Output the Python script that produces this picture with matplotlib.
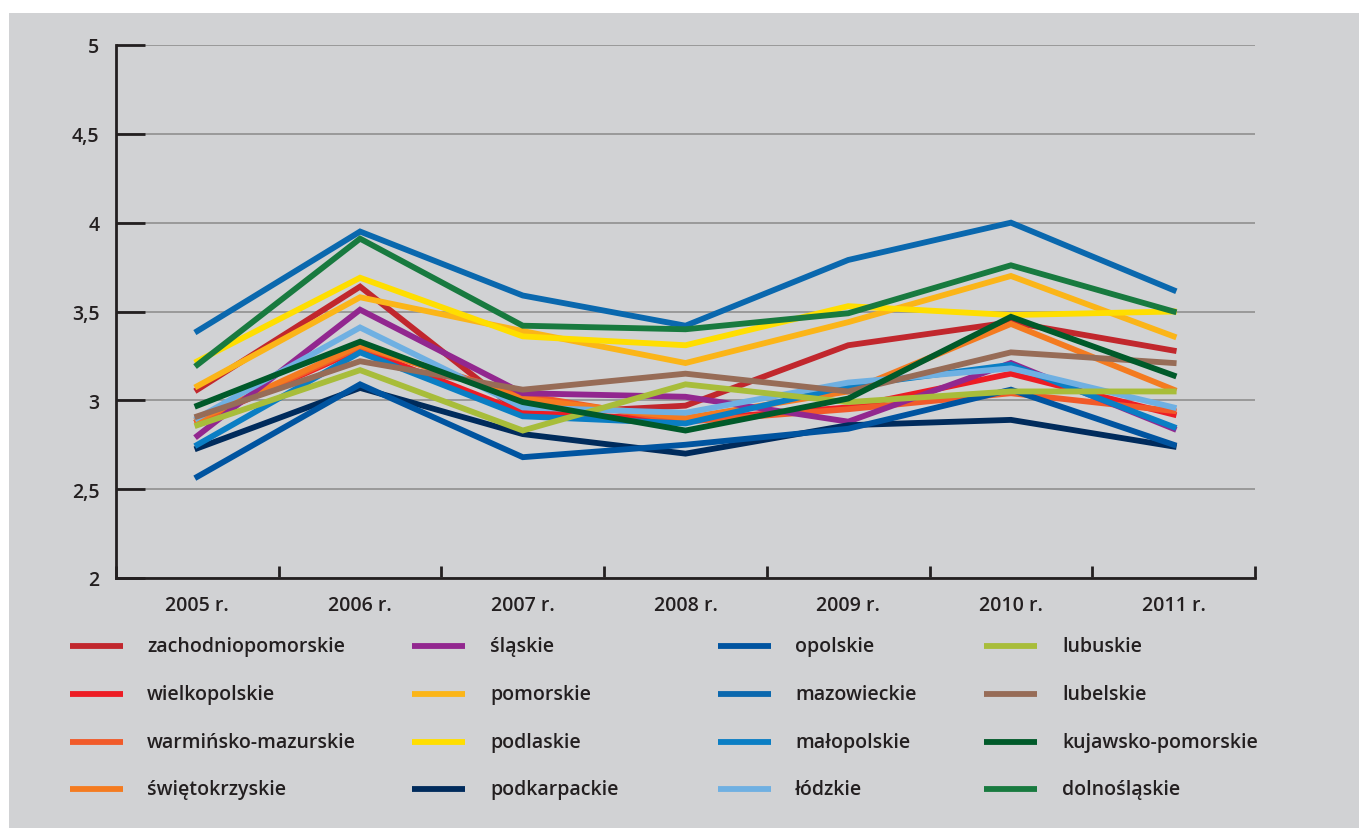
import matplotlib
matplotlib.use("Agg")
import matplotlib.pyplot as plt
from matplotlib.patches import Rectangle

plt.rcParams['font.family'] = ['Open Sans', 'DejaVu Sans']

# data
years = ["2005 r.", "2006 r.", "2007 r.", "2008 r.", "2009 r.", "2010 r.", "2011 r."]

regions = [
  "zachodniopomorskie", "wielkopolskie", "warmińsko-mazurskie", "świętokrzyskie",
  "śląskie", "pomorskie", "podlaskie", "podkarpackie",
  "opolskie", "mazowieckie", "małopolskie", "łódzkie",
  "lubuskie", "lubelskie", "kujawsko-pomorskie", "dolnośląskie",
]

zachodniopomorskie = [3.06, 3.64, 2.92, 2.97, 3.31, 3.44, 3.28]
wielkopolskie = [2.88, 3.29, 2.93, 2.89, 2.96, 3.15, 2.92]
warminsko = [2.88, 3.30, 3.03, 2.88, 2.95, 3.04, 2.94]
swietokrzyskie = [2.89, 3.31, 3.01, 2.90, 3.05, 3.43, 3.06]
slaskie = [2.80, 3.51, 3.04, 3.02, 2.88, 3.21, 2.84]
pomorskie = [3.08, 3.58, 3.39, 3.21, 3.44, 3.70, 3.36]
podlaskie = [3.22, 3.69, 3.36, 3.31, 3.53, 3.48, 3.50]
podkarpackie = [2.73, 3.07, 2.81, 2.70, 2.86, 2.89, 2.74]
opolskie = [2.57, 3.09, 2.68, 2.75, 2.84, 3.06, 2.75]
mazowieckie = [3.39, 3.95, 3.59, 3.42, 3.79, 4.00, 3.62]
malopolskie = [2.75, 3.27, 2.91, 2.87, 3.08, 3.20, 2.85]
lodzkie = [2.90, 3.41, 2.96, 2.93, 3.10, 3.18, 2.96]
lubuskie = [2.86, 3.17, 2.83, 3.09, 2.99, 3.05, 3.05]
lubelskie = [2.91, 3.22, 3.06, 3.15, 3.05, 3.27, 3.21]
kujawsko = [2.97, 3.33, 2.99, 2.83, 3.01, 3.47, 3.14]
dolnoslaskie = [3.20, 3.91, 3.42, 3.40, 3.49, 3.76, 3.50]

values = [
  zachodniopomorskie, wielkopolskie, warminsko, swietokrzyskie,
  slaskie, pomorskie, podlaskie, podkarpackie,
  opolskie, mazowieckie, malopolskie, lodzkie,
  lubuskie, lubelskie, kujawsko, dolnoslaskie,
]

colors = [
  "#c1272d", "#ed1c24", "#f15a29", "#f47b20",
  "#92278f", "#fbb518", "#ffde00", "#002b5c",
  "#0054a0", "#0a68ae", "#0a7ec4", "#6fb0e2",
  "#a8bd3a", "#976c57", "#005a2a", "#187a3f",
]

W, H = 1359, 829
fig = plt.figure(figsize=(W / 100, H / 100), dpi=100, facecolor="white")

# gray panel behind everything
fig.patches.append(Rectangle((9 / W, 0), 1, 1 - 14 / H, transform=fig.transFigure,
                             facecolor="#d1d2d4", edgecolor="none", zorder=-10))

ax = fig.add_axes([116 / W, 1 - 579 / H, (1255 - 116) / W, (579 - 46) / H])
ax.set_facecolor("none")

x = list(range(len(years)))
for name, vals, col in zip(regions, values, colors):
  ax.plot(x, vals, color=col, lw=4.2, solid_joinstyle="miter", label=name)

# Format plot
ax.set_xlim(-0.5, len(years) - 0.5)
ax.set_ylim(2, 5)
ax.set_yticks([2, 2.5, 3, 3.5, 4, 4.5, 5])
ax.set_yticklabels(["2", "2,5", "3", "3,5", "4", "4,5", "5"])
ax.set_xticks(x)
ax.set_xticklabels(years)
ax.set_xticks([i - 0.5 for i in range(len(years) + 1)], minor=True)

ax.yaxis.grid(True, color="#8f8f8f", lw=1.2)
ax.set_axisbelow(True)
for s in ["top", "right"]:
  ax.spines[s].set_visible(False)
for s in ["left", "bottom"]:
  ax.spines[s].set_color("#231f20")
  ax.spines[s].set_linewidth(2)

ax.tick_params(axis="y", direction="in", length=21, width=2, color="#231f20",
               pad=12, labelsize=14, labelcolor="#231f20")
ax.tick_params(axis="x", which="major", length=0, pad=12, labelsize=14,
               labelcolor="#231f20")
ax.tick_params(axis="x", which="minor", direction="in", length=9, width=2,
               color="#231f20")
for lab in ax.get_xticklabels() + ax.get_yticklabels():
  lab.set_fontweight("semibold")

# legend drawn in pixel coordinates
lax = fig.add_axes([0, 0, 1, 1])
lax.set_xlim(0, W)
lax.set_ylim(H, 0)
lax.axis("off")
colX = [70, 412, 718, 984]
textX = [147, 490, 795, 1062]
rowY = [647, 695, 743, 790]
for i, (name, col) in enumerate(zip(regions, colors)):
  c, r = i // 4, i % 4
  lax.plot([colX[c], colX[c] + 53], [rowY[r], rowY[r]], color=col, lw=4.2,
           solid_capstyle="butt")
  lax.text(textX[c], rowY[r], name, va="center", ha="left", fontsize=14,
           fontweight="semibold", color="#231f20")

fig.savefig("out.png", dpi=100, facecolor="white")
